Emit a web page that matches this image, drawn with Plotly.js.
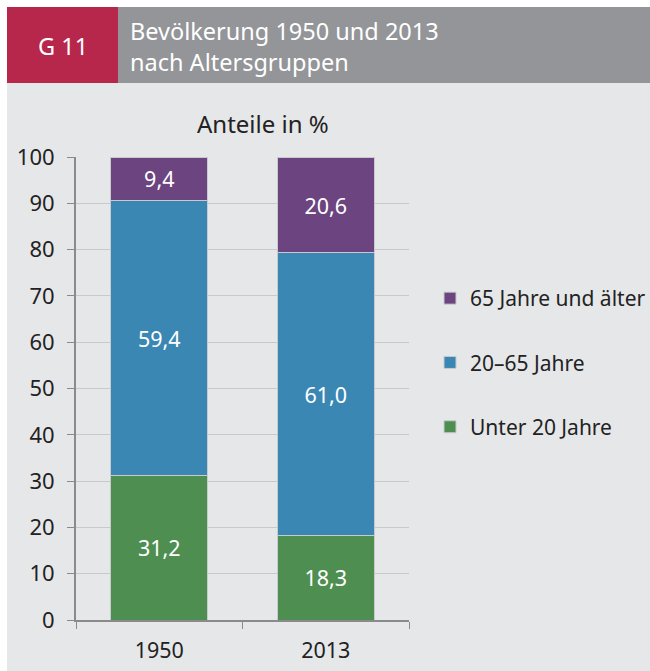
<!DOCTYPE html>
<html><head><meta charset="utf-8">
<script src="https://cdn.plot.ly/plotly-3.0.1.min.js"></script>
<style>html,body{margin:0;padding:0;background:#fff}#chart{width:650px;height:671px}</style>
</head><body><div id="chart"></div>
<script>
const categories = ['1950', '2013'];
const under20 = [31.2, 18.3];
const mid20to65 = [59.4, 61.0];
const over65 = [9.4, 20.6];
const seriesNames = ['Unter 20 Jahre', '20–65 Jahre', '65 Jahre und älter'];
const seriesColors = ['#4e8f51', '#3a87b4', '#6b4480'];
const legendRanks = [3, 2, 1];
const yTicks = [0, 10, 20, 30, 40, 50, 60, 70, 80, 90, 100];

const L = 76, R = 409, T = 157, B = 620, W = 650, H = 671;
const px = v => (v - L) / (R - L);
const py = v => 1 - (v - T) / (B - T);
const FONT = '"Noto Sans", "Open Sans", sans-serif';

const values = [under20, mid20to65, over65];
const traces = values.map((vals, i) => ({
  type: 'bar', x: categories, y: vals, name: seriesNames[i],
  legendgroup: 'g' + i, legendrank: legendRanks[i],
  marker: {color: seriesColors[i], line: {color: '#c9cace', width: 1}},
  texttemplate: '%{y:.1f}', textposition: 'inside', insidetextanchor: 'middle',
  textfont: {color: '#ffffff', size: 21.5, family: FONT},
  hoverinfo: 'skip'
}));

const layout = {
  width: W, height: H,
  margin: {l: L, r: W - R, t: T, b: H - B, pad: 0, autoexpand: false},
  paper_bgcolor: '#e6e7e9', plot_bgcolor: '#e6e7e9',
  separators: ',.',
  barmode: 'stack', bargap: 0.417,
  font: {family: FONT, color: '#222222', size: 21},
  showlegend: true,
  legend: {x: px(430), xanchor: 'left', y: py(278), yanchor: 'top',
    traceorder: 'grouped', tracegroupgap: 34,
    font: {size: 21, color: '#222'}, bgcolor: 'rgba(0,0,0,0)', itemclick: false},
  xaxis: {type: 'category', showline: true, linecolor: '#8a8a8a', linewidth: 2,
    ticks: 'outside', tickson: 'boundaries', ticklen: 7, tickcolor: '#8a8a8a', tickwidth: 1,
    showgrid: false, tickfont: {size: 21.5, color: '#222'}, ticklabelstandoff: 10, fixedrange: true, automargin: false},
  yaxis: {range: [0, 100], tickvals: yTicks, showline: true, linecolor: '#8a8a8a', linewidth: 2,
    ticks: 'outside', ticklen: 7, tickcolor: '#8a8a8a', tickwidth: 1,
    showgrid: true, gridcolor: '#c8c9cc', gridwidth: 1, zeroline: false,
    tickfont: {size: 22, color: '#222'}, ticklabelstandoff: 8, fixedrange: true, automargin: false},
  shapes: [
    {type: 'rect', xref: 'paper', yref: 'paper', x0: px(0), x1: px(W), y0: py(0), y1: py(7), fillcolor: '#ffffff', line: {width: 0}, layer: 'below'},
    {type: 'rect', xref: 'paper', yref: 'paper', x0: px(0), x1: px(7), y0: py(0), y1: py(H), fillcolor: '#ffffff', line: {width: 0}, layer: 'below'},
    {type: 'rect', xref: 'paper', yref: 'paper', x0: px(7), x1: px(118), y0: py(7), y1: py(83), fillcolor: '#b7264b', line: {width: 0}, layer: 'below'},
    {type: 'rect', xref: 'paper', yref: 'paper', x0: px(118), x1: px(W), y0: py(7), y1: py(83), fillcolor: '#939598', line: {width: 0}, layer: 'below'}
  ],
  annotations: [
    {text: 'G 11', xref: 'paper', yref: 'paper', x: px(63), y: py(46), xanchor: 'center', yanchor: 'middle', showarrow: false, font: {size: 23.5, color: '#ffffff', family: FONT}},
    {text: 'Bevölkerung 1950 und 2013<br>nach Altersgruppen', xref: 'paper', yref: 'paper', x: px(128), y: py(46), xanchor: 'left', yanchor: 'middle', align: 'left', showarrow: false, font: {size: 23.5, color: '#ffffff', family: FONT}},
    {text: 'Anteile in %', xref: 'paper', yref: 'paper', x: px(263), y: py(124), xanchor: 'center', yanchor: 'middle', showarrow: false, font: {size: 24, color: '#222', family: FONT}}
  ]
};
Plotly.newPlot('chart', traces, layout, {displayModeBar: false, staticPlot: true});
</script></body></html>
